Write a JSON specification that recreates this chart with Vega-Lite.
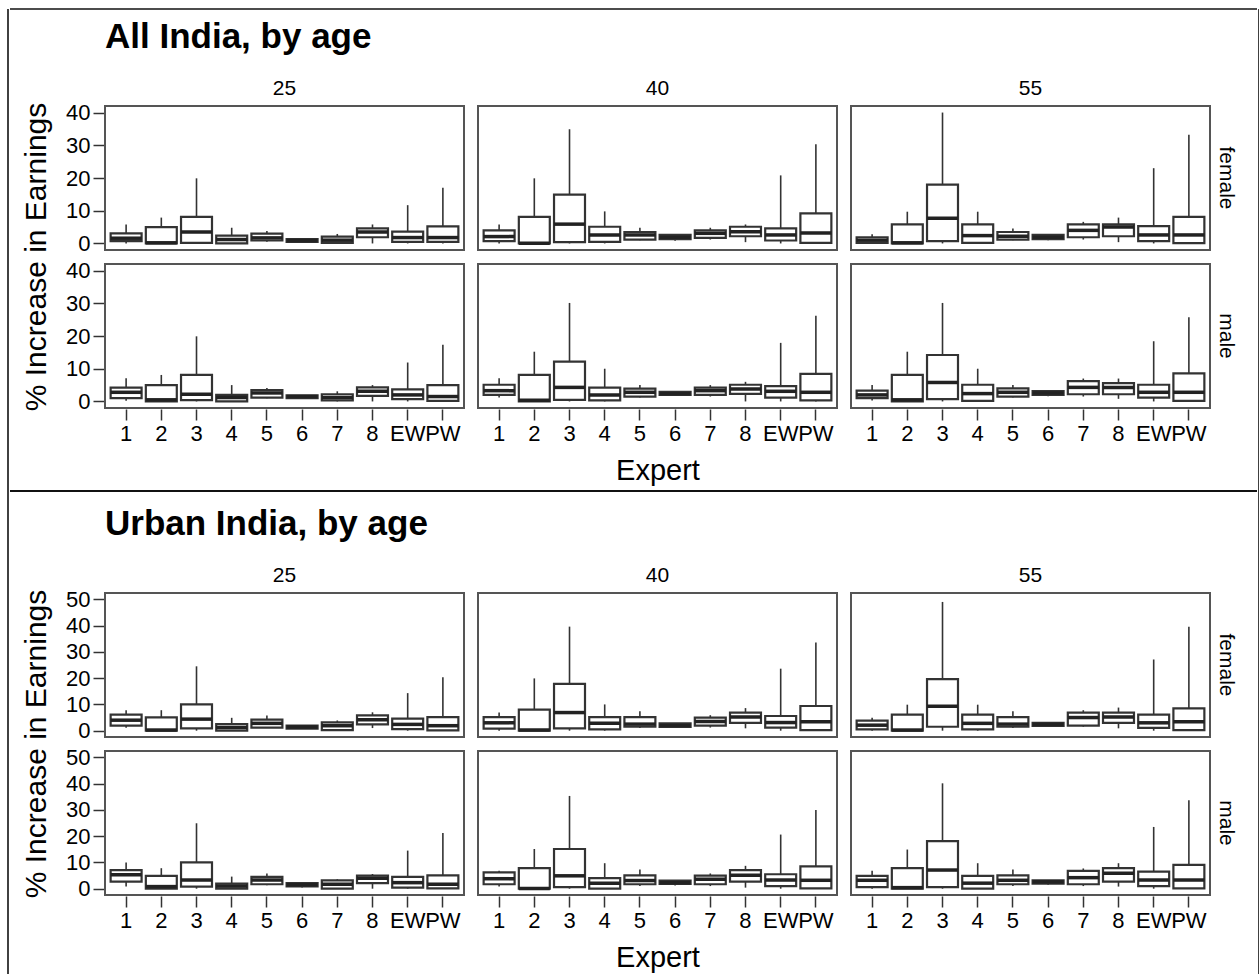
{
"$schema": "https://vega.github.io/schema/vega-lite/v6.json",
"padding": {"left": 7, "top": 8, "right": 0, "bottom": 0},
"datasets": {
"all": [
{"g":"female","age":"25","e":"1","lo":0,"q1":0.7,"med":1.6,"q3":3.1,"hi":5.8},
{"g":"female","age":"25","e":"2","lo":0,"q1":0,"med":0.2,"q3":5.0,"hi":7.9},
{"g":"female","age":"25","e":"3","lo":0,"q1":0.2,"med":3.5,"q3":8.1,"hi":19.9},
{"g":"female","age":"25","e":"4","lo":0,"q1":0,"med":1.2,"q3":2.4,"hi":4.8},
{"g":"female","age":"25","e":"5","lo":0.5,"q1":0.9,"med":1.7,"q3":3.0,"hi":3.8},
{"g":"female","age":"25","e":"6","lo":0.5,"q1":0.5,"med":0.9,"q3":1.3,"hi":1.3},
{"g":"female","age":"25","e":"7","lo":0,"q1":0.2,"med":1.0,"q3":2.1,"hi":2.9},
{"g":"female","age":"25","e":"8","lo":0,"q1":1.9,"med":3.5,"q3":4.6,"hi":5.8},
{"g":"female","age":"25","e":"EW","lo":0,"q1":0.5,"med":1.8,"q3":3.6,"hi":11.7},
{"g":"female","age":"25","e":"PW","lo":0,"q1":0.5,"med":1.8,"q3":5.2,"hi":17.0},
{"g":"male","age":"25","e":"1","lo":0.2,"q1":1.0,"med":2.8,"q3":4.2,"hi":7.1},
{"g":"male","age":"25","e":"2","lo":0,"q1":0,"med":0.5,"q3":5.0,"hi":8.1},
{"g":"male","age":"25","e":"3","lo":0,"q1":0.4,"med":2.2,"q3":8.1,"hi":19.9},
{"g":"male","age":"25","e":"4","lo":0,"q1":0,"med":1.2,"q3":2.0,"hi":5.0},
{"g":"male","age":"25","e":"5","lo":1.0,"q1":1.2,"med":2.6,"q3":3.5,"hi":4.1},
{"g":"male","age":"25","e":"6","lo":0.8,"q1":1.0,"med":1.5,"q3":1.9,"hi":1.9},
{"g":"male","age":"25","e":"7","lo":0,"q1":0.3,"med":1.2,"q3":2.2,"hi":3.1},
{"g":"male","age":"25","e":"8","lo":0,"q1":1.7,"med":3.1,"q3":4.3,"hi":5.0},
{"g":"male","age":"25","e":"EW","lo":0,"q1":0.7,"med":2.0,"q3":3.7,"hi":11.9},
{"g":"male","age":"25","e":"PW","lo":0,"q1":0.2,"med":1.5,"q3":5.0,"hi":17.3},
{"g":"female","age":"40","e":"1","lo":0,"q1":0.7,"med":2.1,"q3":4.0,"hi":5.8},
{"g":"female","age":"40","e":"2","lo":0,"q1":0,"med":0.1,"q3":8.1,"hi":19.9},
{"g":"female","age":"40","e":"3","lo":0,"q1":0.4,"med":5.9,"q3":14.9,"hi":34.9},
{"g":"female","age":"40","e":"4","lo":0,"q1":0.5,"med":2.6,"q3":5.1,"hi":9.8},
{"g":"female","age":"40","e":"5","lo":1.0,"q1":1.2,"med":2.6,"q3":3.5,"hi":4.8},
{"g":"female","age":"40","e":"6","lo":0.8,"q1":1.3,"med":1.9,"q3":2.6,"hi":2.6},
{"g":"female","age":"40","e":"7","lo":1.2,"q1":1.7,"med":3.1,"q3":4.0,"hi":4.8},
{"g":"female","age":"40","e":"8","lo":0.4,"q1":2.2,"med":3.6,"q3":5.1,"hi":5.8},
{"g":"female","age":"40","e":"EW","lo":0,"q1":0.9,"med":2.6,"q3":4.6,"hi":20.8},
{"g":"female","age":"40","e":"PW","lo":0,"q1":0.2,"med":3.2,"q3":9.2,"hi":30.3},
{"g":"male","age":"40","e":"1","lo":1.2,"q1":2.0,"med":3.3,"q3":5.1,"hi":7.1},
{"g":"male","age":"40","e":"2","lo":0,"q1":0,"med":0.4,"q3":8.1,"hi":15.2},
{"g":"male","age":"40","e":"3","lo":0,"q1":0.5,"med":4.3,"q3":12.2,"hi":30.1},
{"g":"male","age":"40","e":"4","lo":0,"q1":0.3,"med":2.0,"q3":4.2,"hi":10.0},
{"g":"male","age":"40","e":"5","lo":1.2,"q1":1.5,"med":2.8,"q3":3.9,"hi":5.0},
{"g":"male","age":"40","e":"6","lo":1.8,"q1":2.0,"med":2.4,"q3":2.9,"hi":2.9},
{"g":"male","age":"40","e":"7","lo":1.5,"q1":2.0,"med":3.3,"q3":4.2,"hi":5.0},
{"g":"male","age":"40","e":"8","lo":0,"q1":2.3,"med":3.8,"q3":5.1,"hi":6.0},
{"g":"male","age":"40","e":"EW","lo":0,"q1":1.2,"med":3.1,"q3":4.7,"hi":17.9},
{"g":"male","age":"40","e":"PW","lo":0,"q1":0.3,"med":2.8,"q3":8.4,"hi":26.2},
{"g":"female","age":"55","e":"1","lo":0,"q1":0.2,"med":1.0,"q3":1.9,"hi":2.8},
{"g":"female","age":"55","e":"2","lo":0,"q1":0,"med":0.2,"q3":5.8,"hi":9.7},
{"g":"female","age":"55","e":"3","lo":0,"q1":0.7,"med":7.7,"q3":18.0,"hi":40.0},
{"g":"female","age":"55","e":"4","lo":0,"q1":0.2,"med":2.4,"q3":5.8,"hi":9.7},
{"g":"female","age":"55","e":"5","lo":1.0,"q1":1.2,"med":2.2,"q3":3.5,"hi":4.6},
{"g":"female","age":"55","e":"6","lo":1.0,"q1":1.3,"med":1.9,"q3":2.6,"hi":2.6},
{"g":"female","age":"55","e":"7","lo":1.2,"q1":1.9,"med":4.0,"q3":5.8,"hi":6.6},
{"g":"female","age":"55","e":"8","lo":0.4,"q1":2.2,"med":5.0,"q3":5.8,"hi":7.9},
{"g":"female","age":"55","e":"EW","lo":0,"q1":0.7,"med":2.6,"q3":5.3,"hi":23.0},
{"g":"female","age":"55","e":"PW","lo":0,"q1":0.1,"med":2.6,"q3":8.1,"hi":33.2},
{"g":"male","age":"55","e":"1","lo":0.3,"q1":1.0,"med":2.0,"q3":3.3,"hi":5.0},
{"g":"male","age":"55","e":"2","lo":0,"q1":0,"med":0.5,"q3":8.1,"hi":15.2},
{"g":"male","age":"55","e":"3","lo":0,"q1":0.7,"med":5.8,"q3":14.2,"hi":30.1},
{"g":"male","age":"55","e":"4","lo":0,"q1":0.2,"med":2.4,"q3":5.1,"hi":10.0},
{"g":"male","age":"55","e":"5","lo":1.2,"q1":1.5,"med":2.8,"q3":4.0,"hi":5.0},
{"g":"male","age":"55","e":"6","lo":1.6,"q1":2.0,"med":2.6,"q3":3.2,"hi":3.2},
{"g":"male","age":"55","e":"7","lo":1.5,"q1":2.2,"med":4.3,"q3":6.2,"hi":7.0},
{"g":"male","age":"55","e":"8","lo":0.8,"q1":2.2,"med":4.3,"q3":5.6,"hi":7.0},
{"g":"male","age":"55","e":"EW","lo":0,"q1":1.2,"med":2.8,"q3":5.1,"hi":18.4},
{"g":"male","age":"55","e":"PW","lo":0,"q1":0.2,"med":2.8,"q3":8.6,"hi":25.7}
],
"urban": [
{"g":"female","age":"25","e":"1","lo":1.1,"q1":1.9,"med":4.0,"q3":6.1,"hi":7.8},
{"g":"female","age":"25","e":"2","lo":0,"q1":0,"med":0.25,"q3":5.1,"hi":7.8},
{"g":"female","age":"25","e":"3","lo":0,"q1":0.9,"med":4.4,"q3":10.0,"hi":24.5},
{"g":"female","age":"25","e":"4","lo":0,"q1":0,"med":1.2,"q3":2.5,"hi":4.9},
{"g":"female","age":"25","e":"5","lo":1.0,"q1":1.2,"med":2.8,"q3":4.2,"hi":5.8},
{"g":"female","age":"25","e":"6","lo":0.7,"q1":0.8,"med":1.4,"q3":1.9,"hi":1.9},
{"g":"female","age":"25","e":"7","lo":0,"q1":0.2,"med":1.9,"q3":3.2,"hi":3.9},
{"g":"female","age":"25","e":"8","lo":1.0,"q1":2.4,"med":4.2,"q3":5.8,"hi":7.0},
{"g":"female","age":"25","e":"EW","lo":0,"q1":0.6,"med":2.4,"q3":4.6,"hi":14.3},
{"g":"female","age":"25","e":"PW","lo":0,"q1":0.1,"med":1.9,"q3":5.2,"hi":20.3},
{"g":"male","age":"25","e":"1","lo":0.8,"q1":2.7,"med":5.3,"q3":7.1,"hi":10.0},
{"g":"male","age":"25","e":"2","lo":0,"q1":0,"med":0.8,"q3":4.9,"hi":7.8},
{"g":"male","age":"25","e":"3","lo":0,"q1":0.8,"med":3.3,"q3":10.0,"hi":24.9},
{"g":"male","age":"25","e":"4","lo":0,"q1":0,"med":1.0,"q3":1.9,"hi":4.6},
{"g":"male","age":"25","e":"5","lo":1.3,"q1":1.7,"med":3.3,"q3":4.5,"hi":5.8},
{"g":"male","age":"25","e":"6","lo":0.5,"q1":0.9,"med":1.5,"q3":2.1,"hi":2.1},
{"g":"male","age":"25","e":"7","lo":0,"q1":0,"med":1.7,"q3":3.2,"hi":3.6},
{"g":"male","age":"25","e":"8","lo":0,"q1":2.1,"med":4.0,"q3":5.0,"hi":5.6},
{"g":"male","age":"25","e":"EW","lo":0,"q1":0.4,"med":2.3,"q3":4.5,"hi":14.5},
{"g":"male","age":"25","e":"PW","lo":0,"q1":0.1,"med":1.7,"q3":5.1,"hi":21.2},
{"g":"female","age":"40","e":"1","lo":0,"q1":0.8,"med":3.0,"q3":5.2,"hi":6.9},
{"g":"female","age":"40","e":"2","lo":0,"q1":0,"med":0.25,"q3":8.0,"hi":19.9},
{"g":"female","age":"40","e":"3","lo":0,"q1":0.9,"med":6.9,"q3":17.8,"hi":39.6},
{"g":"female","age":"40","e":"4","lo":0,"q1":0.5,"med":2.8,"q3":5.2,"hi":10.0},
{"g":"female","age":"40","e":"5","lo":1.0,"q1":1.5,"med":2.5,"q3":5.2,"hi":7.4},
{"g":"female","age":"40","e":"6","lo":1.2,"q1":1.4,"med":2.0,"q3":2.8,"hi":2.8},
{"g":"female","age":"40","e":"7","lo":1.2,"q1":1.9,"med":3.5,"q3":5.0,"hi":5.9},
{"g":"female","age":"40","e":"8","lo":0.9,"q1":3.0,"med":5.2,"q3":6.9,"hi":8.6},
{"g":"female","age":"40","e":"EW","lo":0,"q1":1.2,"med":3.1,"q3":5.6,"hi":23.6},
{"g":"female","age":"40","e":"PW","lo":0,"q1":0.25,"med":3.4,"q3":9.4,"hi":33.6},
{"g":"male","age":"40","e":"1","lo":0.8,"q1":1.7,"med":3.8,"q3":6.2,"hi":6.8},
{"g":"male","age":"40","e":"2","lo":0,"q1":0,"med":0.1,"q3":7.8,"hi":15.1},
{"g":"male","age":"40","e":"3","lo":0,"q1":0.6,"med":4.9,"q3":15.1,"hi":35.3},
{"g":"male","age":"40","e":"4","lo":0,"q1":0,"med":2.1,"q3":4.0,"hi":9.7},
{"g":"male","age":"40","e":"5","lo":1.0,"q1":1.7,"med":3.1,"q3":5.1,"hi":7.3},
{"g":"male","age":"40","e":"6","lo":1.2,"q1":1.8,"med":2.3,"q3":3.1,"hi":3.1},
{"g":"male","age":"40","e":"7","lo":1.0,"q1":1.7,"med":3.6,"q3":5.0,"hi":5.8},
{"g":"male","age":"40","e":"8","lo":0.4,"q1":2.7,"med":5.1,"q3":7.1,"hi":8.7},
{"g":"male","age":"40","e":"EW","lo":0,"q1":1.0,"med":3.3,"q3":5.5,"hi":20.6},
{"g":"male","age":"40","e":"PW","lo":0,"q1":0.1,"med":3.2,"q3":8.5,"hi":29.9},
{"g":"female","age":"55","e":"1","lo":0,"q1":0.5,"med":2.1,"q3":3.8,"hi":4.9},
{"g":"female","age":"55","e":"2","lo":0,"q1":0,"med":0.25,"q3":6.1,"hi":9.9},
{"g":"female","age":"55","e":"3","lo":0,"q1":1.5,"med":9.3,"q3":19.6,"hi":49.0},
{"g":"female","age":"55","e":"4","lo":0,"q1":0.5,"med":2.8,"q3":6.1,"hi":9.9},
{"g":"female","age":"55","e":"5","lo":1.0,"q1":1.5,"med":2.5,"q3":5.2,"hi":7.4},
{"g":"female","age":"55","e":"6","lo":1.5,"q1":1.8,"med":2.4,"q3":3.0,"hi":3.0},
{"g":"female","age":"55","e":"7","lo":1.5,"q1":1.9,"med":5.0,"q3":6.9,"hi":7.8},
{"g":"female","age":"55","e":"8","lo":0.9,"q1":3.0,"med":5.2,"q3":6.9,"hi":8.8},
{"g":"female","age":"55","e":"EW","lo":0,"q1":1.1,"med":3.0,"q3":6.1,"hi":27.1},
{"g":"female","age":"55","e":"PW","lo":0,"q1":0.25,"med":3.4,"q3":8.5,"hi":39.6},
{"g":"male","age":"55","e":"1","lo":0,"q1":0.6,"med":3.2,"q3":4.9,"hi":6.8},
{"g":"male","age":"55","e":"2","lo":0,"q1":0,"med":0.4,"q3":7.8,"hi":14.9},
{"g":"male","age":"55","e":"3","lo":0,"q1":0.6,"med":7.1,"q3":18.1,"hi":40.1},
{"g":"male","age":"55","e":"4","lo":0,"q1":0,"med":2.1,"q3":4.9,"hi":9.7},
{"g":"male","age":"55","e":"5","lo":1.0,"q1":1.7,"med":3.2,"q3":5.1,"hi":7.3},
{"g":"male","age":"55","e":"6","lo":1.5,"q1":1.9,"med":2.6,"q3":3.2,"hi":3.2},
{"g":"male","age":"55","e":"7","lo":1.0,"q1":1.7,"med":4.2,"q3":6.8,"hi":7.7},
{"g":"male","age":"55","e":"8","lo":0.8,"q1":2.7,"med":5.9,"q3":7.8,"hi":9.7},
{"g":"male","age":"55","e":"EW","lo":0,"q1":1.0,"med":3.3,"q3":6.5,"hi":23.5},
{"g":"male","age":"55","e":"PW","lo":0,"q1":0.1,"med":3.3,"q3":9.1,"hi":33.7}
]
},
"spacing": 0,
"hconcat": [
{
"width": 1, "height": 966, "view": {"stroke": null},
"data": {"values": [{"a": 0, "b": 1}]},
"mark": {"type": "rule", "color": "#111", "strokeWidth": 1.6},
"encoding": {
"x": {"field": "a", "type": "quantitative", "scale": {"domain": [0, 1]}, "axis": null},
"y": {"field": "a", "type": "quantitative", "scale": {"domain": [0, 1]}, "axis": null},
"y2": {"field": "b"}
}
},
{
"spacing": 4,
"vconcat": [
{
"width": 1000, "height": 7, "view": {"stroke": null},
"data": {"values": [{"a": 0, "b": 1}]},
"mark": {"type": "rule", "color": "#111", "strokeWidth": 1.6},
"encoding": {
"x": {"field": "a", "type": "quantitative", "scale": {"domain": [0, 1], "range": [-95, 1152]}, "axis": null},
"x2": {"field": "b"},
"y": {"field": "b", "type": "quantitative", "scale": {"domain": [0, 1]}, "axis": null}
}
},
{
"title": {"text": "All India, by age", "anchor": "start", "frame": "group", "fontSize": 35, "fontWeight": "bold", "color": "black", "offset": 23},
"data": {"name": "all"},
"facet": {
"column": {"field": "age", "type": "nominal", "header": {"title": "Expert", "titleOrient": "bottom", "titleFontSize": 29, "titleFontWeight": "normal", "titleColor": "black", "titlePadding": 3, "labelOrient": "top", "labelFontSize": 21, "labelPadding": 6, "labelColor": "black"}},
"row": {"field": "g", "type": "nominal", "header": {"title": "% Increase in Earnings", "titleOrient": "left", "titleFontSize": 30, "titleFontWeight": "normal", "titleColor": "black", "titlePadding": 3, "labelOrient": "right", "labelFontSize": 21, "labelAngle": 90, "labelPadding": 5, "labelColor": "black"}}
},
"spacing": 12,
"spec": {
"width": 359, "height": 144,
"layer": [
{
"mark": {"type": "rule", "color": "#333", "strokeWidth": 1.6},
"encoding": {
"x": {"field": "e", "type": "nominal", "sort": ["1","2","3","4","5","6","7","8","EW","PW"], "scale": {"paddingInner": 0.12, "paddingOuter": 0.16}, "axis": {"title": null}},
"y": {"field": "lo", "type": "quantitative", "scale": {"domain": [-2, 42], "nice": false, "zero": false}, "axis": {"values": [0, 10, 20, 30, 40], "tickCount": 5, "title": null}},
"y2": {"field": "hi"}
}
},
{
"mark": {"type": "bar", "fill": "white", "stroke": "#333", "strokeWidth": 2.2, "opacity": 1},
"encoding": {
"x": {"field": "e", "type": "nominal", "sort": ["1","2","3","4","5","6","7","8","EW","PW"], "axis": {"title": null}},
"y": {"field": "q1", "type": "quantitative", "axis": {"values": [0, 10, 20, 30, 40], "tickCount": 5, "title": null}},
"y2": {"field": "q3"}
}
},
{
"mark": {"type": "tick", "color": "#222", "thickness": 3.5, "size": 31, "opacity": 1},
"encoding": {
"x": {"field": "e", "type": "nominal", "sort": ["1","2","3","4","5","6","7","8","EW","PW"], "axis": {"title": null}},
"y": {"field": "med", "type": "quantitative", "axis": {"values": [0, 10, 20, 30, 40], "tickCount": 5, "title": null}}
}
}
]
}
},
{
"width": 1000, "height": 12, "view": {"stroke": null},
"data": {"values": [{"a": 0, "b": 1}]},
"mark": {"type": "rule", "color": "#111", "strokeWidth": 2},
"encoding": {
"x": {"field": "a", "type": "quantitative", "scale": {"domain": [0, 1], "range": [-95, 1152]}, "axis": null},
"x2": {"field": "b"},
"y": {"field": "b", "type": "quantitative", "scale": {"domain": [0, 1]}, "axis": null}
}
},
{
"title": {"text": "Urban India, by age", "anchor": "start", "frame": "group", "fontSize": 35, "fontWeight": "bold", "color": "black", "offset": 23},
"data": {"name": "urban"},
"facet": {
"column": {"field": "age", "type": "nominal", "header": {"title": "Expert", "titleOrient": "bottom", "titleFontSize": 29, "titleFontWeight": "normal", "titleColor": "black", "titlePadding": 3, "labelOrient": "top", "labelFontSize": 21, "labelPadding": 6, "labelColor": "black"}},
"row": {"field": "g", "type": "nominal", "header": {"title": "% Increase in Earnings", "titleOrient": "left", "titleFontSize": 30, "titleFontWeight": "normal", "titleColor": "black", "titlePadding": 3, "labelOrient": "right", "labelFontSize": 21, "labelAngle": 90, "labelPadding": 5, "labelColor": "black"}}
},
"spacing": 12,
"spec": {
"width": 359, "height": 144,
"layer": [
{
"mark": {"type": "rule", "color": "#333", "strokeWidth": 1.6},
"encoding": {
"x": {"field": "e", "type": "nominal", "sort": ["1","2","3","4","5","6","7","8","EW","PW"], "scale": {"paddingInner": 0.12, "paddingOuter": 0.16}, "axis": {"title": null}},
"y": {"field": "lo", "type": "quantitative", "scale": {"domain": [-2.4, 52.4], "nice": false, "zero": false}, "axis": {"values": [0, 10, 20, 30, 40, 50], "tickCount": 6, "title": null}},
"y2": {"field": "hi"}
}
},
{
"mark": {"type": "bar", "fill": "white", "stroke": "#333", "strokeWidth": 2.2, "opacity": 1},
"encoding": {
"x": {"field": "e", "type": "nominal", "sort": ["1","2","3","4","5","6","7","8","EW","PW"], "axis": {"title": null}},
"y": {"field": "q1", "type": "quantitative", "axis": {"values": [0, 10, 20, 30, 40, 50], "tickCount": 6, "title": null}},
"y2": {"field": "q3"}
}
},
{
"mark": {"type": "tick", "color": "#222", "thickness": 3.5, "size": 31, "opacity": 1},
"encoding": {
"x": {"field": "e", "type": "nominal", "sort": ["1","2","3","4","5","6","7","8","EW","PW"], "axis": {"title": null}},
"y": {"field": "med", "type": "quantitative", "axis": {"values": [0, 10, 20, 30, 40, 50], "tickCount": 6, "title": null}}
}
}
]
}
}
]
},
{
"width": 1, "height": 966, "view": {"stroke": null},
"data": {"values": [{"a": 0, "b": 1}]},
"mark": {"type": "rule", "color": "#111", "strokeWidth": 1.6},
"encoding": {
"x": {"field": "a", "type": "quantitative", "scale": {"domain": [0, 1]}, "axis": null},
"y": {"field": "a", "type": "quantitative", "scale": {"domain": [0, 1]}, "axis": null},
"y2": {"field": "b"}
}
}
],
"config": {
"font": "Liberation Sans",
"view": {"stroke": "#555", "strokeWidth": 2},
"axis": {"domain": false, "grid": false, "tickColor": "#333", "tickWidth": 1.5, "tickSize": 11, "labelFontSize": 22, "labelColor": "black", "labelOverlap": false},
"axisY": {"labelPadding": 3},
"axisX": {"labelPadding": 3, "labelAngle": 0}
}
}
